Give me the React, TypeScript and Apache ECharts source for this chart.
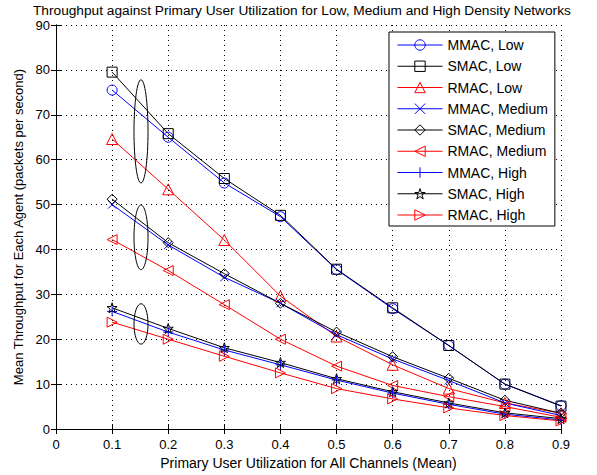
import React, { useEffect, useRef } from "react";
import * as echarts from "echarts";

const xValues = [0.1, 0.2, 0.3, 0.4, 0.5, 0.6, 0.7, 0.8, 0.9];

const mmacLow = [75.5, 65, 54.8, 47.3, 35.5, 26.8, 18.6, 10, 5.2];
const smacLow = [79.5, 65.8, 55.8, 47.6, 35.6, 27, 18.6, 10, 5.1];
const rmacLow = [64.6, 53.4, 42.1, 29.6, 20.6, 14.3, 9, 5.8, 3.5];
const mmacMed = [50, 41, 33.8, 28, 21, 15.6, 10.8, 5.8, 3];
const smacMed = [51.2, 41.5, 34.6, 28, 21.6, 16.1, 11.3, 6.4, 3.5];
const rmacMed = [42.2, 35.3, 27.7, 20, 14, 9.7, 7.2, 5, 2.6];
const mmacHigh = [26.2, 21.6, 17.6, 14.3, 10.9, 8, 5.5, 3.3, 2];
const smacHigh = [27, 22.4, 18.1, 14.8, 11.2, 8.3, 5.8, 3.6, 2.3];
const rmacHigh = [23.8, 20, 16.2, 12.5, 9, 6.7, 4.7, 3, 1.8];

// [x centre, y centre, x radius, y radius] in data units
const ellipses = [
  [0.1515, 66.3, 0.0125, 11.5],
  [0.1515, 42.7, 0.0125, 7.2],
  [0.1515, 23.4, 0.0125, 4.5],
];

const seriesNames = [
  "MMAC, Low",
  "SMAC, Low",
  "RMAC, Low",
  "MMAC, Medium",
  "SMAC, Medium",
  "RMAC, Medium",
  "MMAC, High",
  "SMAC, High",
  "RMAC, High",
];

const BLUE = "#0000ff";
const BLACK = "#000000";
const RED = "#ff0000";

const SYM_CROSS = "path://M0,0L10,10M10,0L0,10";
const SYM_PLUS = "path://M5,0L5,10M0,5L10,5";
const SYM_STAR =
  "path://M5,0L6.2,3.6L10,3.6L6.9,5.9L8.1,9.5L5,7.3L1.9,9.5L3.1,5.9L0,3.6L3.8,3.6Z";
const SYM_LEFT = "path://M0,5L10,0L10,10Z";
const SYM_RIGHT = "path://M10,5L0,0L0,10Z";

const seriesDefs: [string, number[], string, string, number][] = [
  [seriesNames[0], mmacLow, BLUE, "circle", 10],
  [seriesNames[1], smacLow, BLACK, "rect", 10],
  [seriesNames[2], rmacLow, RED, "triangle", 11],
  [seriesNames[3], mmacMed, BLUE, SYM_CROSS, 8],
  [seriesNames[4], smacMed, BLACK, "diamond", 10],
  [seriesNames[5], rmacMed, RED, SYM_LEFT, 10],
  [seriesNames[6], mmacHigh, BLUE, SYM_PLUS, 10],
  [seriesNames[7], smacHigh, BLACK, SYM_STAR, 10],
  [seriesNames[8], rmacHigh, RED, SYM_RIGHT, 10],
];

const FONT = "Liberation Sans, Arial, sans-serif";

export default function App() {
  const ref = useRef<HTMLDivElement>(null);

  useEffect(() => {
    if (!ref.current) return;
    const chart = echarts.init(ref.current, null, { renderer: "svg" });

    const lineSeries = seriesDefs.map(([name, vals, color, symbol, size]) => ({
      name,
      type: "line",
      data: xValues.map((x, i) => [x, vals[i]]),
      symbol,
      symbolSize: size,
      showAllSymbol: true,
      lineStyle: { color, width: 1 },
      itemStyle: { color: "transparent", borderColor: color, borderWidth: 1 },
      emphasis: { disabled: true },
      z: 3,
    }));

    const ellipseSeries = {
      type: "custom",
      name: "ellipses",
      data: ellipses,
      encode: { x: 0, y: 1 },
      clip: false,
      silent: true,
      z: 4,
      renderItem: (params: any, api: any) => {
        const c = api.coord([api.value(0), api.value(1)]);
        const s = api.size([api.value(2), api.value(3)]);
        return {
          type: "ellipse",
          shape: { cx: c[0], cy: c[1], rx: s[0], ry: s[1] },
          style: { fill: "none", stroke: "#000", lineWidth: 1 },
        };
      },
    };

    const axisCommon = {
      axisLine: { show: true, lineStyle: { color: "#000", width: 1 } },
      axisTick: { show: true, inside: true, length: 5, lineStyle: { color: "#000" } },
    };

    chart.setOption({
      animation: false,
      backgroundColor: "#ffffff",
      textStyle: { fontFamily: FONT },
      title: {
        text: "Throughput against Primary User Utilization for Low, Medium and High Density Networks",
        left: 33,
        top: 3,
        padding: 0,
        textStyle: {
          fontSize: 13.7,
          lineHeight: 14,
          fontWeight: "normal",
          color: "#000",
          fontFamily: FONT,
        },
      },
      grid: { left: 56, top: 25, width: 505, height: 404 },
      legend: {
        data: seriesNames,
        orient: "vertical",
        left: 389,
        top: 32,
        padding: [6, 7, 4, 8],
        itemWidth: 45,
        itemHeight: 13,
        itemGap: 7.25,
        borderColor: "#000",
        borderWidth: 1,
        backgroundColor: "#fff",
        itemStyle: { borderWidth: 1 },
        lineStyle: { width: 1 },
        textStyle: { fontSize: 14, color: "#000", lineHeight: 13, fontFamily: FONT },
        selectedMode: false,
        z: 10,
      },
      xAxis: [
        {
          type: "value",
          min: 0,
          max: 0.9,
          interval: 0.1,
          ...axisCommon,
          axisLabel: {
            color: "#000",
            fontSize: 13,
            margin: 9,
            fontFamily: FONT,
            formatter: (v: number) => (v === 0 ? "0" : v.toFixed(1)),
          },
          splitLine: { show: true, lineStyle: { color: "#000", type: [1, 4], width: 1 } },
          name: "Primary User Utilization for All Channels (Mean)",
          nameLocation: "middle",
          nameGap: 21,
          nameTextStyle: { fontSize: 14, color: "#000", fontFamily: FONT },
        },
        {
          type: "value",
          position: "top",
          min: 0,
          max: 0.9,
          interval: 0.1,
          ...axisCommon,
          axisLabel: { show: false },
          splitLine: { show: false },
        },
      ],
      yAxis: [
        {
          type: "value",
          min: 0,
          max: 90,
          interval: 10,
          ...axisCommon,
          axisLabel: { color: "#000", fontSize: 13, margin: 6, fontFamily: FONT },
          splitLine: { show: true, lineStyle: { color: "#000", type: [1, 4], width: 1 } },
          name: "Mean Throughput for Each Agent (packets per second)",
          nameLocation: "middle",
          nameGap: 28,
          nameTextStyle: { fontSize: 13, color: "#000", fontFamily: FONT },
        },
        {
          type: "value",
          position: "right",
          min: 0,
          max: 90,
          interval: 10,
          ...axisCommon,
          axisLabel: { show: false },
          splitLine: { show: false },
        },
      ],
      series: [...lineSeries, ellipseSeries],
    });

    return () => chart.dispose();
  }, []);

  return (
    <div
      ref={ref}
      style={{ position: "fixed", left: 0, top: 0, width: 597, height: 475, background: "#fff" }}
    />
  );
}
